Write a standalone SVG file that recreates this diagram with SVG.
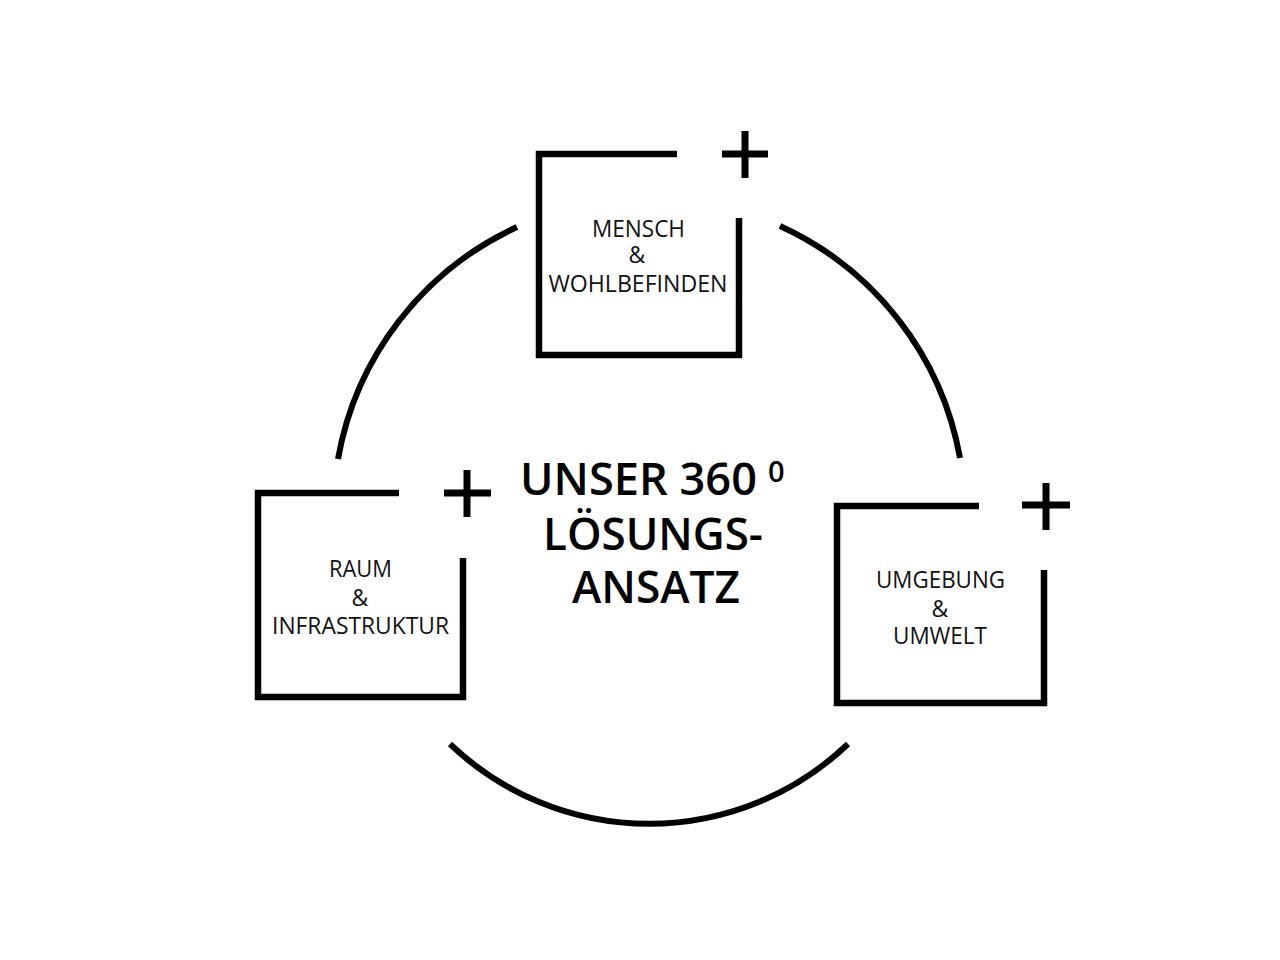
<svg xmlns="http://www.w3.org/2000/svg" width="1280" height="960" viewBox="0 0 1280 960">
  <style>
    .ring { fill: none; stroke: #000; stroke-width: 6; stroke-linecap: butt; }
    .frame { fill: none; stroke: #000; stroke-width: 6.5; stroke-linecap: butt; stroke-linejoin: miter; }
    .plus { fill: none; stroke: #000; stroke-width: 7; stroke-linecap: butt; }
    .label { font-family: "Open Sans", "Liberation Sans", sans-serif; font-size: 23px; fill: #111; text-anchor: middle; }
    .title { font-family: "Open Sans", "Liberation Sans", sans-serif; font-size: 46px; font-weight: 600; fill: #000; }
  </style>
  <rect width="1280" height="960" fill="#fff"/>

  <!-- circular ring broken by the three topic frames -->
  <g id="connectors">
    <path class="ring" d="M517,227 A316,316 0 0 0 338,459"/>
    <path class="ring" d="M780,226 A316,316 0 0 1 960,458"/>
    <path class="ring" d="M450,744 A288,288 0 0 0 848,744"/>
  </g>

  <g id="mensch">
    <path class="frame" d="M677,154 H539 V355 H739 V218"/>
    <path class="plus" d="M722,154 H768 M745,131 V178"/>
    <text class="label" x="638.5" y="237" textLength="93" lengthAdjust="spacingAndGlyphs">MENSCH</text>
    <text class="label" x="637" y="263">&amp;</text>
    <text class="label" x="638" y="292" textLength="179" lengthAdjust="spacingAndGlyphs">WOHLBEFINDEN</text>
  </g>

  <g id="raum">
    <path class="frame" d="M399,493 H258 V697 H463 V558"/>
    <path class="plus" d="M444,493 H491 M467,470 V517"/>
    <text class="label" x="360.5" y="577" textLength="63" lengthAdjust="spacingAndGlyphs">RAUM</text>
    <text class="label" x="360" y="606">&amp;</text>
    <text class="label" x="360.5" y="634" textLength="177" lengthAdjust="spacingAndGlyphs">INFRASTRUKTUR</text>
  </g>

  <g id="umgebung">
    <path class="frame" d="M979,506 H837 V703 H1044 V570"/>
    <path class="plus" d="M1022,505 H1070 M1046,483 V530"/>
    <text class="label" x="940.5" y="588" textLength="129" lengthAdjust="spacingAndGlyphs">UMGEBUNG</text>
    <text class="label" x="940" y="617">&amp;</text>
    <text class="label" x="940" y="644" textLength="94" lengthAdjust="spacingAndGlyphs">UMWELT</text>
  </g>

  <g id="center">
    <text class="title"><tspan x="520" y="495" textLength="237" lengthAdjust="spacingAndGlyphs">UNSER 360</tspan><tspan x="768" y="482" font-size="29">0</tspan></text>
    <text class="title" x="543" y="550" textLength="220" lengthAdjust="spacingAndGlyphs">LÖSUNGS-</text>
    <text class="title" x="572" y="603" textLength="168" lengthAdjust="spacingAndGlyphs">ANSATZ</text>
  </g>
</svg>
